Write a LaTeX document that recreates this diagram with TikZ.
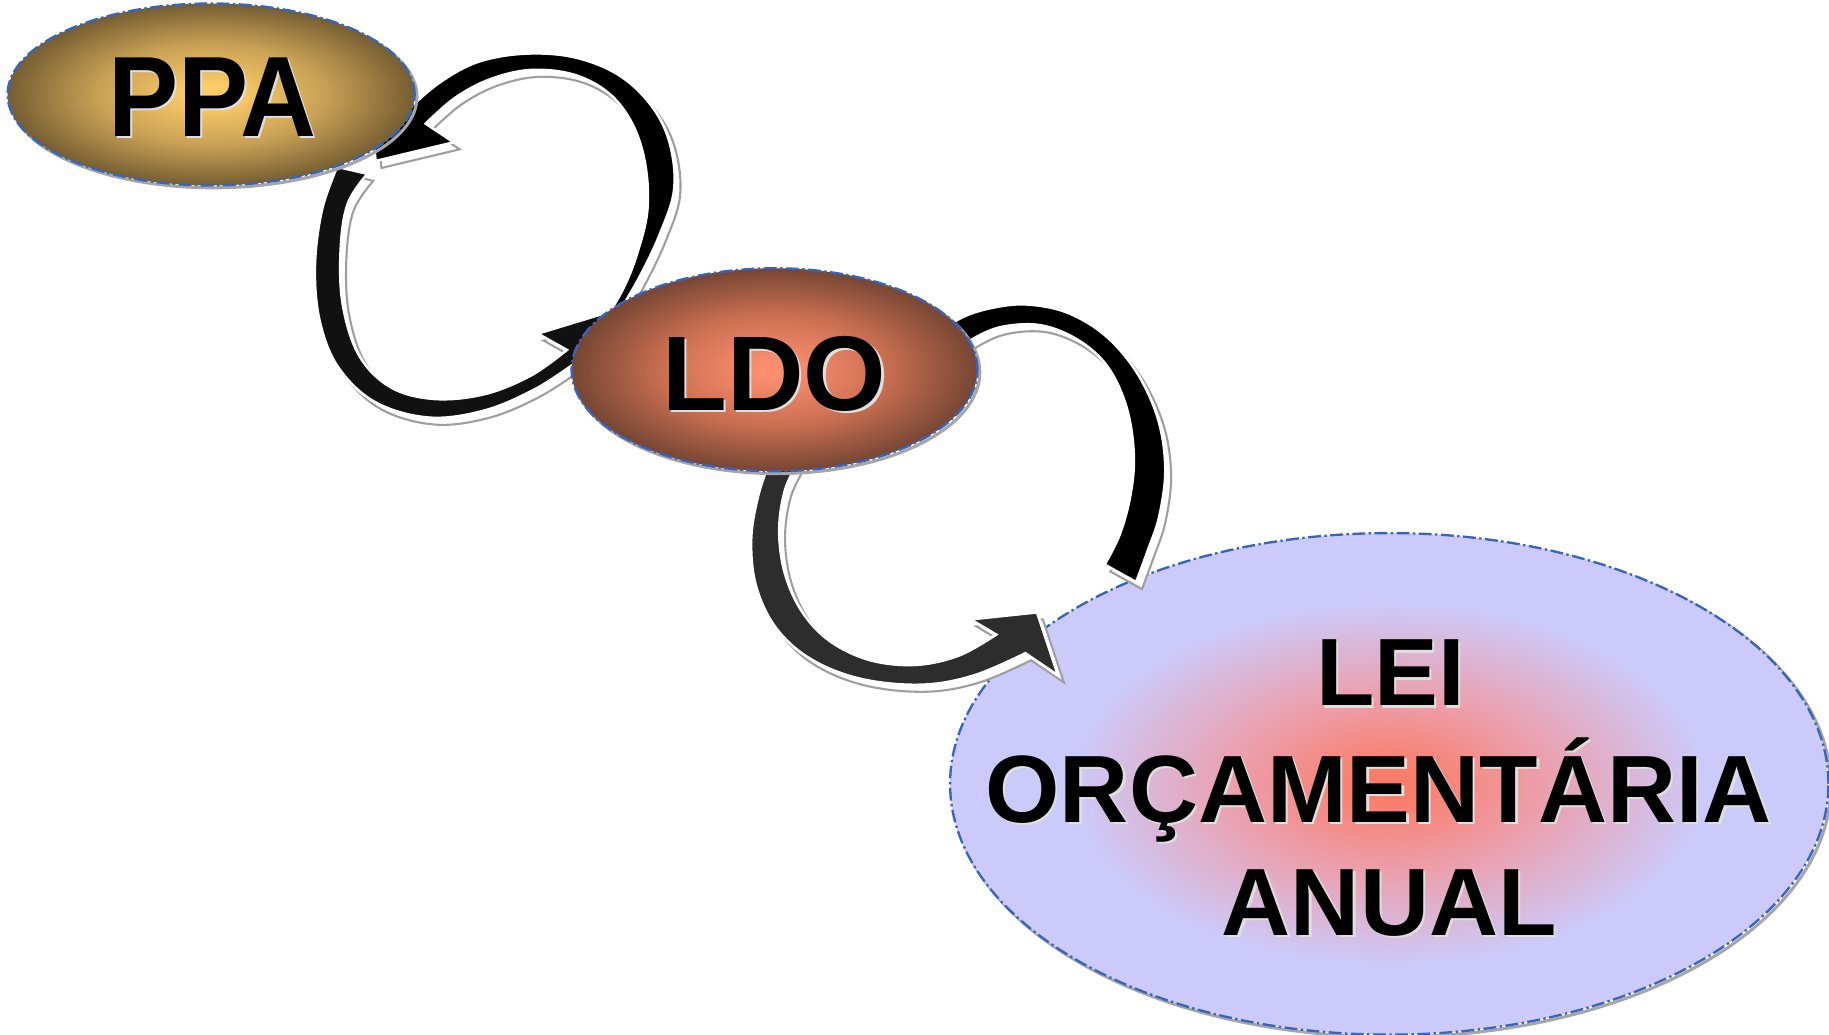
\documentclass[tikz,border=0pt]{standalone}
\usepackage{fontspec}
\usepackage{graphicx}
\setmainfont{Liberation Sans}
\usetikzlibrary{shapes.geometric}
\definecolor{ppac}{RGB}{252,204,104}
\definecolor{ppam}{RGB}{200,160,85}
\definecolor{ppae}{RGB}{118,94,50}
\definecolor{ldoc}{RGB}{252,142,112}
\definecolor{ldom}{RGB}{200,110,80}
\definecolor{ldoe}{RGB}{118,70,52}
\definecolor{loac}{RGB}{250,125,105}
\definecolor{loam}{RGB}{235,160,175}
\definecolor{loae}{RGB}{204,202,250}
\definecolor{bordblue}{RGB}{55,100,190}
\definecolor{bodyA}{RGB}{17,17,17}
\definecolor{bodyB}{RGB}{45,45,45}
\pgfdeclareradialshading{ppashade}{\pgfpoint{0bp}{0bp}}{color(0bp)=(ppac); color(2.5bp)=(ppac); color(14bp)=(ppam); color(25bp)=(ppae); color(50bp)=(ppae)}
\pgfdeclareradialshading{ldoshade}{\pgfpoint{0bp}{0bp}}{color(0bp)=(ldoc); color(2bp)=(ldoc); color(14bp)=(ldom); color(25bp)=(ldoe); color(50bp)=(ldoe)}
\pgfdeclareradialshading{loashade}{\pgfpoint{0bp}{0bp}}{color(0bp)=(loac); color(1.5bp)=(loac); color(9bp)=(loam); color(18bp)=(loae); color(50bp)=(loae)}
\newcommand\pathAone{plot[smooth,tension=0.6] coordinates {(528,272) (548,238) (566,200) (578,162) (574,122) (558,90) (530,64) (492,49) (450,46) (410,53) (378,70) (352,92) (338,108)} -- (318,100) -- (322,138) -- (389,122) -- plot[smooth,tension=0.6] coordinates {(365,106) (390,84) (420,68) (455,60) (492,64) (522,80) (542,106) (553,140) (555,180) (546,218) (534,248) (518,275)} -- cycle}
\newcommand\pathAtwo{plot[smooth,tension=0.6] coordinates {(289,143) (276,180) (270,228) (274,275) (290,315) (322,345) (368,358) (415,352) (458,334) (492,312)} -- (512,325) -- (540,262) -- (461,286) -- plot[smooth,tension=0.6] coordinates {(486,300) (455,322) (415,338) (372,342) (335,332) (308,305) (294,262) (292,215) (298,175) (315,149)} -- cycle}
\newcommand\pathBone{plot[smooth,tension=0.6] coordinates {(805,285) (825,272) (850,264) (880,261) (915,268) (948,288) (975,320) (993,360) (999,402) (994,442) (984,472) (974,499)} -- plot[smooth,tension=0.6] coordinates {(947,484) (960,458) (969,425) (972,390) (966,350) (950,315) (925,292) (893,279) (860,280) (835,290) (815,305)} -- cycle}
\newcommand\pathBtwo{plot[smooth,tension=0.6] coordinates {(660,395) (650,425) (644,462) (648,502) (665,538) (695,565) (738,582) (790,587) (835,579) (879,560)} -- (907,579) -- (889,525) -- (832,531) -- plot[smooth,tension=0.6] coordinates {(854,544) (822,562) (785,570) (746,566) (712,550) (688,525) (673,492) (668,455) (673,420) (685,395)} -- cycle}
\begin{document}
\begin{tikzpicture}[x=1pt,y=-1pt,
  bubble/.style={ellipse, inner sep=0pt, draw=bordblue, line width=2pt, dash pattern=on 11pt off 3pt on 2pt off 3pt},
  bubshadow/.style={ellipse, inner sep=0pt, draw=gray!70, line width=2.6pt},
  arrowshadow/.style={fill=white, draw=gray!75, line width=1.8pt, line join=miter},
  arrowbody/.style={draw=white, line width=2.2pt, line join=miter},
  lbl/.style={anchor=base, inner sep=0pt, text=black},
  lblsh/.style={anchor=base, inner sep=0pt, text=white!75!gray}]
\useasboundingbox (0,0) rectangle (1568,887);
% LOA bubble (below arrows)
\node[bubshadow, minimum width=753pt, minimum height=430pt] (loash) at (1193,674) {};
\node[bubble, shading=loashade, minimum width=753pt, minimum height=430pt] (loa) at (1191,672) {};
% arrows
\begin{scope}[xshift=5pt,yshift=-6pt]
\path[arrowshadow] \pathAone;
\path[arrowshadow] \pathAtwo;
\path[arrowshadow] \pathBone;
\path[arrowshadow] \pathBtwo;
\end{scope}
\path[arrowbody, fill=black] \pathAone;
\path[arrowbody, fill=bodyA] \pathAtwo;
\path[arrowbody, fill=black] \pathBone;
\path[arrowbody, fill=bodyB] \pathBtwo;
% PPA and LDO bubbles
\node[bubshadow, minimum width=349pt, minimum height=156pt] (ppash) at (183,83) {};
\node[bubble, shading=ppashade, minimum width=349pt, minimum height=156pt] (ppa) at (181,81) {};
\node[bubshadow, minimum width=348pt, minimum height=174pt] (ldosh) at (666,319) {};
\node[bubble, shading=ldoshade, minimum width=348pt, minimum height=174pt] (ldo) at (664,317) {};
% texts
\node[lblsh, font=\bfseries\fontsize{98}{98}\selectfont] (ppatsh) at (184,119) {\scalebox{0.92}[1]{PPA}};
\node[lbl, font=\bfseries\fontsize{98}{98}\selectfont] (ppat) at (182,117) {\scalebox{0.92}[1]{PPA}};
\node[lblsh, font=\bfseries\fontsize{91}{91}\selectfont] (ldotsh) at (666,354) {LDO};
\node[lbl, font=\bfseries\fontsize{91}{91}\selectfont] (ldot) at (664,352) {LDO};
\node[lblsh, font=\bfseries\fontsize{82}{82}\selectfont] (l1sh) at (1194,607) {LEI};
\node[lbl, font=\bfseries\fontsize{82}{82}\selectfont] (l1) at (1192,605) {LEI};
\node[lblsh, font=\bfseries\fontsize{82}{82}\selectfont] (l2sh) at (1184,707) {ORÇAMENTÁRIA};
\node[lbl, font=\bfseries\fontsize{82}{82}\selectfont] (l2) at (1182,705) {ORÇAMENTÁRIA};
\node[lblsh, font=\bfseries\fontsize{82}{82}\selectfont] (l3sh) at (1193,804) {ANUAL};
\node[lbl, font=\bfseries\fontsize{82}{82}\selectfont] (l3) at (1191,802) {ANUAL};
\end{tikzpicture}
\end{document}
